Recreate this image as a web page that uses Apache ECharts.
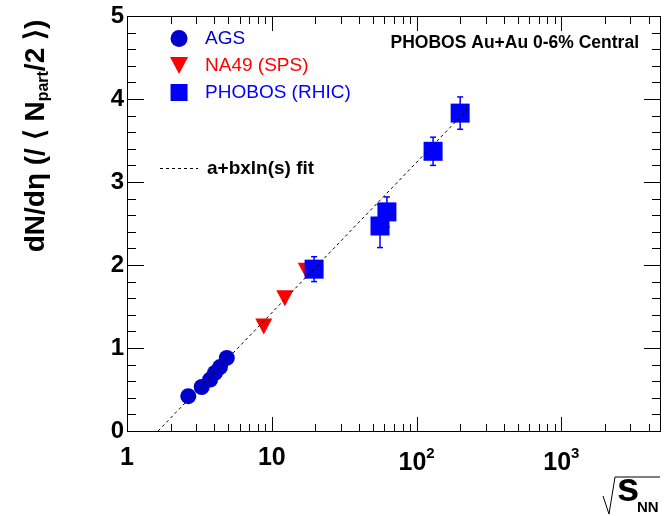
<!DOCTYPE html>
<html><head><meta charset="utf-8">
<script src="https://cdn.jsdelivr.net/npm/echarts@6/dist/echarts.min.js"></script>
<style>html,body{margin:0;padding:0;background:#fff}#c{width:672px;height:516px}</style>
</head><body><div id="c"></div>
<script>
// ---- data ----
const agsX = [2.65, 3.28, 3.75, 4.05, 4.39, 4.89];
const agsY = [0.42, 0.53, 0.62, 0.70, 0.77, 0.88];
const na49X = [8.8, 12.3, 17.3];
const na49Y = [1.26, 1.60, 1.93];
const phobosX = [19.6, 55.9, 62.4, 130, 200];
const phobosY = [1.95, 2.47, 2.64, 3.37, 3.83];
const phobosErr = [0.15, 0.26, 0.18, 0.17, 0.195];
const fitX = [1.64, 232];
const fitY = [0, 3.90];
// ---- axes / ticks ----
const X_MIN = 1, X_MAX = 4800, Y_MIN = 0, Y_MAX = 5;
const xTickValues = [1, 10, 100, 1000];
const xTickBase = ['1', '10', '10', '10'];
const xTickExp = ['', '', '2', '3'];
const minorTicksX = [2,3,4,5,6,7,8,9,20,30,40,50,60,70,80,90,200,300,400,500,600,700,800,900,2000,3000,4000];
const yTickValues = [0, 1, 2, 3, 4, 5];
const minorTicksY = [0.2,0.4,0.6,0.8,1.2,1.4,1.6,1.8,2.2,2.4,2.6,2.8,3.2,3.4,3.6,3.8,4.2,4.4,4.6,4.8];

const FF = '"Liberation Sans", Arial, Helvetica, sans-serif';
const chart = echarts.init(document.getElementById('c'), null, {renderer: 'canvas'});

function xLabel(v) {
  for (let i = 0; i < xTickValues.length; i++) {
    if (Math.abs(v - xTickValues[i]) < 1e-6 * xTickValues[i]) {
      return xTickExp[i] ? '{b|' + xTickBase[i] + '}{s|' + xTickExp[i] + '}' : '{b|' + xTickBase[i] + '}';
    }
  }
  return '';
}

// frame and ticks as 1px filled rectangles (no strokes), placed through a value->pixel function
function buildFrame(coord, z) {
  const ch = [];
  const box = (x, y, w, h) => ch.push({type: 'rect', z: z, shape: {x: x, y: y, width: w, height: h},
    style: {fill: '#000', stroke: 'none', lineWidth: 0}});
  const tl = coord([X_MIN, Y_MAX]), br = coord([X_MAX, Y_MIN]);
  const L = Math.round(tl[0]), T = Math.round(tl[1]), R = Math.round(br[0]), B = Math.round(br[1]);
  box(L, T, R - L + 1, 1);          // top
  box(L, B, R - L + 1, 1);          // bottom
  box(L, T, 1, B - T + 1);          // left
  box(R, T, 1, B - T + 1);          // right
  xTickValues.forEach(v => { const x = Math.round(coord([v, Y_MIN])[0]); box(x, B - 14, 1, 14); box(x, T + 1, 1, 14); });
  minorTicksX.forEach(v => { const x = Math.round(coord([v, Y_MIN])[0]); box(x, B - 7, 1, 7); box(x, T + 1, 1, 7); });
  yTickValues.forEach(v => { const y = Math.round(coord([X_MIN, v])[1]); box(L + 1, y, 16, 1); box(R - 16, y, 16, 1); });
  minorTicksY.forEach(v => { const y = Math.round(coord([X_MIN, v])[1]); box(L + 1, y, 8, 1); box(R - 8, y, 8, 1); });
  return ch;
}

const baseGraphic = [
  {type: 'line', z: 50, shape: {x1: 160, y1: 168.5, x2: 198, y2: 168.5},
   style: {stroke: '#000', lineWidth: 1, lineDash: [3, 3]}},
  {type: 'text', z: 50, x: 207, y: 169,
   style: {text: 'a+bxln(s) fit', fill: '#000', font: 'bold 19px ' + FF, align: 'left', verticalAlign: 'middle'}},
  {type: 'text', z: 50, x: 639, y: 43,
   style: {text: 'PHOBOS Au+Au 0-6% Central', fill: '#000', font: 'bold 17.5px ' + FF, align: 'right', verticalAlign: 'middle'}},
  {type: 'text', z: 50, x: 36, y: 136, rotation: Math.PI / 2,
   style: {
     text: '{m|dN/dη (/ ⟨ N}{s|part}{m|/2 ⟩)}', align: 'center', verticalAlign: 'middle',
     rich: {
       m: {fontSize: 28, fontWeight: 'bold', fill: '#000', fontFamily: FF},
       s: {fontSize: 16, fontWeight: 'bold', fill: '#000', fontFamily: FF, padding: [15, 0, 0, 0]}
     }
   }},
  {type: 'polyline', z: 50, shape: {points: [[603, 496], [609, 514], [615, 477], [660, 477]]},
   style: {stroke: '#000', lineWidth: 1, fill: null}},
  {type: 'text', z: 50, x: 617, y: 490,
   style: {text: 's', fill: '#000', font: 'bold 40px ' + FF, align: 'left', verticalAlign: 'middle'}},
  {type: 'text', z: 50, x: 637, y: 507.5,
   style: {text: 'NN', fill: '#000', font: 'bold 15px ' + FF, align: 'left', verticalAlign: 'middle'}}
];

const option = {
  backgroundColor: '#fff',
  animation: false,
  textStyle: {fontFamily: FF},
  grid: {left: 127, right: 12, top: 16, bottom: 85, containLabel: false},
  xAxis: {
    type: 'log', logBase: 10, min: X_MIN, max: X_MAX,
    axisLine: {show: false, onZero: false},
    axisTick: {show: false},
    splitLine: {show: false},
    axisLabel: {
      show: true, margin: 15, showMaxLabel: false, formatter: xLabel,
      rich: {
        b: {fontSize: 25, fontWeight: 'bold', color: '#000', fontFamily: FF},
        s: {fontSize: 15, fontWeight: 'bold', color: '#000', fontFamily: FF, padding: [0, 0, 20, 0]}
      }
    }
  },
  yAxis: {
    type: 'value', min: Y_MIN, max: Y_MAX, interval: 1,
    axisLine: {show: false, onZero: false},
    axisTick: {show: false},
    splitLine: {show: false},
    axisLabel: {show: true, margin: 3, fontSize: 24, fontWeight: 'bold', color: '#000', fontFamily: FF}
  },
  legend: {
    orient: 'vertical', left: 165, top: 24, itemWidth: 42, itemHeight: 17, itemGap: 8,
    textStyle: {fontSize: 19, fontFamily: FF},
    data: [
      {name: 'AGS', textStyle: {color: '#0000cc'}},
      {name: 'NA49 (SPS)', textStyle: {color: '#ff0000'}},
      {name: 'PHOBOS (RHIC)', textStyle: {color: '#0000ff'}}
    ],
    selectedMode: false
  },
  graphic: baseGraphic,
  series: [
    {
      name: 'frame', type: 'custom', silent: true, z: 6, clip: false,
      data: [[X_MIN, Y_MIN]],
      renderItem: function (params, api) {
        return {type: 'group', children: buildFrame(p => api.coord(p), 0)};
      }
    },
    {
      name: 'AGS', type: 'scatter', symbol: 'circle', symbolSize: 16, z: 3,
      itemStyle: {color: '#0000cc', opacity: 1},
      data: agsX.map((x, i) => [x, agsY[i]])
    },
    {
      name: 'NA49 (SPS)', type: 'scatter', symbol: 'path://M0,0L10,0L5,9.4Z', symbolSize: [17, 16], z: 3,
      itemStyle: {color: '#ff0000', opacity: 1},
      data: na49X.map((x, i) => [x, na49Y[i]])
    },
    {
      name: 'phobosErr', type: 'custom', z: 3, silent: true,
      data: phobosX.map((x, i) => [x, phobosY[i], phobosErr[i]]),
      encode: {x: 0, y: 1},
      renderItem: function (params, api) {
        const x = api.value(0), y = api.value(1), e = api.value(2);
        const top = api.coord([x, y + e]);
        const bot = api.coord([x, y - e]);
        const st = () => ({stroke: '#0000ff', lineWidth: 1.5});
        return {type: 'group', children: [
          {type: 'line', shape: {x1: top[0], y1: top[1], x2: bot[0], y2: bot[1]}, style: st()},
          {type: 'line', shape: {x1: top[0] - 3, y1: top[1], x2: top[0] + 3, y2: top[1]}, style: st()},
          {type: 'line', shape: {x1: bot[0] - 3, y1: bot[1], x2: bot[0] + 3, y2: bot[1]}, style: st()}
        ]};
      }
    },
    {
      name: 'PHOBOS (RHIC)', type: 'scatter', symbol: 'path://M0,0L10,0L10,10L0,10Z', symbolSize: 19, z: 4,
      itemStyle: {color: '#0000ff', opacity: 1},
      data: phobosX.map((x, i) => [x, phobosY[i]])
    },
    {
      name: 'a+bxln(s) fit', type: 'line', symbol: 'none', z: 5, silent: true,
      lineStyle: {color: '#000', width: 1, type: [3, 3]},
      itemStyle: {color: '#000'},
      data: fitX.map((x, i) => [x, fitY[i]])
    }
  ]
};
chart.setOption(option);

// second pass: same frame and ticks as graphic elements placed through the grid's own scales
const toPx = p => chart.convertToPixel({gridIndex: 0}, p);
chart.setOption({graphic: baseGraphic.concat(buildFrame(toPx, 100))});
</script>
</body></html>
